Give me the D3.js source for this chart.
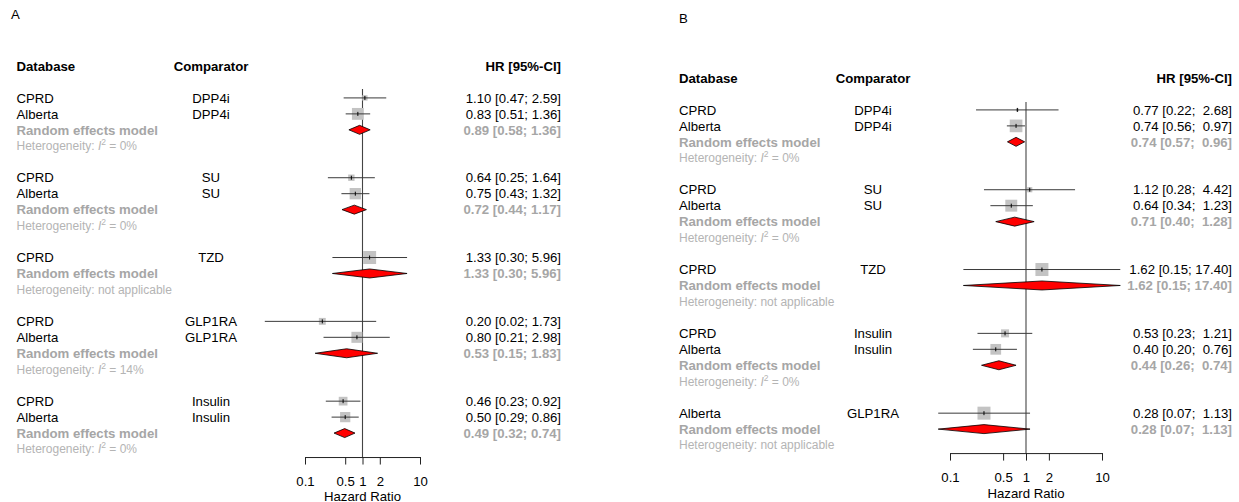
<!DOCTYPE html>
<html>
<head>
<meta charset="utf-8">
<script src="https://cdn.jsdelivr.net/npm/d3@7"></script>
<style>
  body { margin: 0; background: #fff; }
  svg { display: block; font-family: 'Liberation Sans', Arial, sans-serif; }
  text { white-space: pre; }
</style>
</head>
<body>
<div id="chart"></div>
<script>
/* Panel A data */
const aStudyDb = ['CPRD', 'Alberta', 'CPRD', 'Alberta', 'CPRD', 'CPRD', 'Alberta', 'CPRD', 'Alberta'];
const aStudyComp = ['DPP4i', 'DPP4i', 'SU', 'SU', 'TZD', 'GLP1RA', 'GLP1RA', 'Insulin', 'Insulin'];
const aStudyHR = [1.10, 0.83, 0.64, 0.75, 1.33, 0.20, 0.80, 0.46, 0.50];
const aStudyLo = [0.47, 0.51, 0.25, 0.43, 0.30, 0.02, 0.21, 0.23, 0.29];
const aStudyHi = [2.59, 1.36, 1.64, 1.32, 5.96, 1.73, 2.98, 0.92, 0.86];
const aStudyWeight = [17, 83, 24, 76, 100, 28, 72, 45, 62];
const aPoolComp = ['DPP4i', 'SU', 'TZD', 'GLP1RA', 'Insulin'];
const aPoolHR = [0.89, 0.72, 1.33, 0.53, 0.49];
const aPoolLo = [0.58, 0.44, 0.30, 0.15, 0.32];
const aPoolHi = [1.36, 1.17, 5.96, 1.83, 0.74];
const aPoolI2 = [0, 0, null, 14, 0];

/* Panel B data */
const bStudyDb = ['CPRD', 'Alberta', 'CPRD', 'Alberta', 'CPRD', 'CPRD', 'Alberta', 'Alberta'];
const bStudyComp = ['DPP4i', 'DPP4i', 'SU', 'SU', 'TZD', 'Insulin', 'Insulin', 'GLP1RA'];
const bStudyHR = [0.77, 0.74, 1.12, 0.64, 1.62, 0.53, 0.40, 0.28];
const bStudyLo = [0.22, 0.56, 0.28, 0.34, 0.15, 0.23, 0.20, 0.07];
const bStudyHi = [2.68, 0.97, 4.42, 1.23, 17.40, 1.21, 0.76, 1.13];
const bStudyWeight = [5, 95, 16, 84, 100, 38, 68, 100];
const bPoolComp = ['DPP4i', 'SU', 'TZD', 'Insulin', 'GLP1RA'];
const bPoolHR = [0.74, 0.71, 1.62, 0.44, 0.28];
const bPoolLo = [0.57, 0.40, 0.15, 0.26, 0.07];
const bPoolHi = [0.96, 1.28, 17.40, 0.74, 1.13];
const bPoolI2 = [0, 0, null, 0, null];

const hrTicks = [0.1, 0.5, 1, 2, 10];

/* Local constants */
const WIDTH = 1239;
const HEIGHT = 502;
const ROW_H = 15.96;
const FONT = 13.2;
const HET_FONT = 12;
const COLORS = {
  text: '#000',
  pooledText: '#a6a6a6',
  hetText: '#b4b4b4',
  square: '#c3c3c3',
  ciLine: '#3a3a3a',
  diamond: '#ff0000'
};

const svg = d3.select('#chart')
  .append('svg')
  .attr('width', WIDTH)
  .attr('height', HEIGHT);

/**
 * Groups flat study / pooled arrays into forest plot rows.
 */
function buildRows (s, p) {
  const rows = [];
  let r = 2; // rows 0 and 1 are header and blank line
  p.comp.forEach((comp, gi) => {
    s.comp.forEach((c, i) => {
      if (c !== comp) return;
      rows.push({ type: 'study', row: r++, db: s.db[i], comp: c, hr: s.hr[i], lo: s.lo[i], hi: s.hi[i], w: s.w[i] });
    });
    rows.push({ type: 'pooled', row: r++, hr: p.hr[gi], lo: p.lo[gi], hi: p.hi[gi] });
    rows.push({ type: 'het', row: r++, i2: p.i2[gi] });
    r++; // blank between groups
  });
  return { rows, lastRow: r - 2 };
}

/**
 * Formats "HR [lo; hi]" padding the upper bound like R meta does.
 */
function fmtCI (hr, lo, hi, padHi) {
  return `${hr.toFixed(2)} [${lo.toFixed(2)}; ${hi.toFixed(2).padStart(padHi)}]`;
}

/**
 * Draws one forest plot panel.
 */
function drawPanel ({ label, labelX, labelY, top, dbX, compX, ciRight, xRange, refTop, studies, pooled }) {
  const g = svg.append('g');
  const { rows, lastRow } = buildRows(studies, pooled);
  const rowY = (r) => top + r * ROW_H;
  const base = (r) => rowY(r) + 4.7; // text baseline for a row centre
  const padHi = d3.max(studies.hi.concat(pooled.hi), (v) => v.toFixed(2).length);

  const x = d3.scaleLog().domain([0.1, 10]).range(xRange);
  const size = d3.scaleSqrt().domain([0, 100]).range([0, 13]);
  const axisY = rowY(lastRow) + 8;

  g.append('text')
    .attr('x', labelX).attr('y', labelY)
    .attr('font-size', FONT)
    .text(label);

  // Headers
  const header = g.append('g').attr('font-size', FONT).attr('font-weight', 'bold');
  header.append('text').attr('x', dbX).attr('y', base(0)).text('Database');
  header.append('text').attr('x', compX).attr('y', base(0)).attr('text-anchor', 'middle').text('Comparator');
  header.append('text').attr('x', ciRight).attr('y', base(0)).attr('text-anchor', 'end').text('HR [95%-CI]');

  // Reference line at HR = 1
  g.append('line')
    .attr('x1', x(1)).attr('x2', x(1))
    .attr('y1', refTop).attr('y2', axisY)
    .attr('stroke', '#444').attr('stroke-width', 1.1);

  // Study rows
  const study = g.selectAll('g.study')
    .data(rows.filter((d) => d.type === 'study'))
    .join('g')
    .attr('class', 'study')
    .attr('font-size', FONT);
  study.append('text').attr('x', dbX).attr('y', (d) => base(d.row)).text((d) => d.db);
  study.append('text').attr('x', compX).attr('y', (d) => base(d.row)).attr('text-anchor', 'middle').text((d) => d.comp);
  study.append('text').attr('x', ciRight).attr('y', (d) => base(d.row)).attr('text-anchor', 'end')
    .text((d) => fmtCI(d.hr, d.lo, d.hi, padHi));
  study.append('rect')
    .attr('x', (d) => x(d.hr) - size(d.w) / 2)
    .attr('y', (d) => rowY(d.row) - size(d.w) / 2)
    .attr('width', (d) => size(d.w))
    .attr('height', (d) => size(d.w))
    .attr('fill', COLORS.square);
  study.append('line')
    .attr('x1', (d) => x(d.lo)).attr('x2', (d) => x(d.hi))
    .attr('y1', (d) => rowY(d.row)).attr('y2', (d) => rowY(d.row))
    .attr('stroke', COLORS.ciLine).attr('stroke-width', 1);
  study.append('line')
    .attr('x1', (d) => x(d.hr)).attr('x2', (d) => x(d.hr))
    .attr('y1', (d) => rowY(d.row) - 2).attr('y2', (d) => rowY(d.row) + 2)
    .attr('stroke', '#000').attr('stroke-width', 1);

  // Random effects rows
  const pool = g.selectAll('g.pooled')
    .data(rows.filter((d) => d.type === 'pooled'))
    .join('g')
    .attr('class', 'pooled')
    .attr('font-size', FONT)
    .attr('font-weight', 'bold')
    .attr('fill', COLORS.pooledText);
  pool.append('text').attr('x', dbX).attr('y', (d) => base(d.row)).text('Random effects model');
  pool.append('text').attr('x', ciRight).attr('y', (d) => base(d.row)).attr('text-anchor', 'end')
    .text((d) => fmtCI(d.hr, d.lo, d.hi, padHi));
  pool.append('path')
    .attr('d', (d) => {
      const y = rowY(d.row);
      return `M${x(d.lo)},${y}L${x(d.hr)},${y - 4.5}L${x(d.hi)},${y}L${x(d.hr)},${y + 4.5}Z`;
    })
    .attr('fill', COLORS.diamond)
    .attr('stroke', '#000')
    .attr('stroke-width', 0.8);

  // Heterogeneity rows
  const het = g.selectAll('text.het')
    .data(rows.filter((d) => d.type === 'het'))
    .join('text')
    .attr('class', 'het')
    .attr('x', dbX)
    .attr('y', (d) => rowY(d.row) + 4.3)
    .attr('font-size', HET_FONT)
    .attr('fill', COLORS.hetText);
  het.each(function (d) {
    const t = d3.select(this);
    if (d.i2 === null) {
      t.text('Heterogeneity: not applicable');
      return;
    }
    t.append('tspan').text('Heterogeneity: ');
    t.append('tspan').attr('font-style', 'italic').text('I');
    t.append('tspan').attr('font-size', 8.5).attr('dy', -5).text('2');
    t.append('tspan').attr('dy', 5).text(` = ${d.i2}%`);
  });

  // Hazard ratio axis, ticks pointing down
  const axis = g.append('g')
    .attr('transform', `translate(0,${axisY})`)
    .call(d3.axisBottom(x).tickValues(hrTicks).tickFormat(d3.format('')).tickSize(7.5).tickSizeOuter(0));
  axis.select('.domain').attr('stroke', '#222');
  axis.selectAll('.tick line').attr('stroke', '#222');
  axis.selectAll('.tick text')
    .attr('y', 20)
    .attr('font-size', FONT)
    .attr('font-family', "'Liberation Sans', Arial, sans-serif")
    .attr('fill', '#000');

  g.append('text')
    .attr('x', x(1))
    .attr('y', Math.min(axisY + 45, HEIGHT - 1.5))
    .attr('text-anchor', 'middle')
    .attr('font-size', FONT)
    .text('Hazard Ratio');
}

drawPanel({
  label: 'A',
  labelX: 11,
  labelY: 18.5,
  top: 66,
  dbX: 16.5,
  compX: 211,
  ciRight: 561,
  xRange: [305, 420],
  refTop: 89,
  studies: { db: aStudyDb, comp: aStudyComp, hr: aStudyHR, lo: aStudyLo, hi: aStudyHi, w: aStudyWeight },
  pooled: { comp: aPoolComp, hr: aPoolHR, lo: aPoolLo, hi: aPoolHi, i2: aPoolI2 }
});

drawPanel({
  label: 'B',
  labelX: 679,
  labelY: 22.5,
  top: 78,
  dbX: 679,
  compX: 873,
  ciRight: 1232,
  xRange: [950, 1102],
  refTop: 102,
  studies: { db: bStudyDb, comp: bStudyComp, hr: bStudyHR, lo: bStudyLo, hi: bStudyHi, w: bStudyWeight },
  pooled: { comp: bPoolComp, hr: bPoolHR, lo: bPoolLo, hi: bPoolHi, i2: bPoolI2 }
});
</script>
</body>
</html>
